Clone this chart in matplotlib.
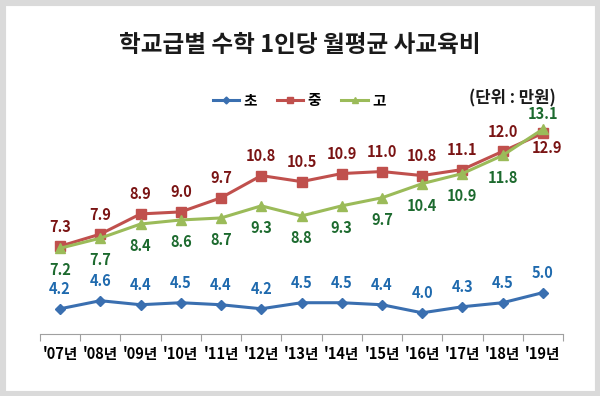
import matplotlib
matplotlib.use("Agg")
import matplotlib.pyplot as plt
from matplotlib.patches import Rectangle

plt.rcParams['font.family'] = ['Noto Sans CJK KR', 'DejaVu Sans']

years = ["'07년", "'08년", "'09년", "'10년", "'11년", "'12년", "'13년",
         "'14년", "'15년", "'16년", "'17년", "'18년", "'19년"]
elem = [4.2, 4.6, 4.4, 4.5, 4.4, 4.2, 4.5, 4.5, 4.4, 4.0, 4.3, 4.5, 5.0]
middle = [7.3, 7.9, 8.9, 9.0, 9.7, 10.8, 10.5, 10.9, 11.0, 10.8, 11.1, 12.0, 12.9]
high = [7.2, 7.7, 8.4, 8.6, 8.7, 9.3, 8.8, 9.3, 9.7, 10.4, 10.9, 11.8, 13.1]
series_names = ["초", "중", "고"]

c_blue, c_red, c_green = "#3A6FB0", "#C0504D", "#9BBB59"
t_blue, t_red, t_green = "#1F6AAE", "#7A1414", "#1C6A2E"

W, H = 600, 396
fig = plt.figure(figsize=(6.0, 3.96), dpi=100)
fig.patch.set_facecolor("white")
fig.patches.append(Rectangle((0, 0), 1, 1, transform=fig.transFigure, fill=False,
                             edgecolor="#DADADA", linewidth=8, zorder=10))

ax = fig.add_axes([40 / W, (H - 334) / H, (563 - 40) / W, (334 - 111) / H])
ax.patch.set_alpha(0)
x = list(range(len(years)))
ax.plot(x, elem, color=c_blue, marker="D", markersize=5, linewidth=2.2, label=series_names[0])
ax.plot(x, middle, color=c_red, marker="s", markersize=7, linewidth=2.2, label=series_names[1])
ax.plot(x, high, color=c_green, marker="^", markersize=7, linewidth=2.2, label=series_names[2])

ax.set_xlim(-0.5, len(years) - 0.5)
ax.set_ylim(2.95, 14.0)
for s in ["top", "right", "left"]:
    ax.spines[s].set_visible(False)
ax.spines["bottom"].set_color("#A0A0A0")
ax.set_yticks([])
ax.set_xticks([i - 0.5 for i in range(len(years) + 1)], minor=False)
ax.set_xticklabels([])
ax.tick_params(axis="x", which="major", length=5, color="#A0A0A0", direction="out")
ax.set_xticks(x, minor=True)
ax.set_xticklabels(years, minor=True, fontsize=10.5, fontweight="bold")
ax.tick_params(axis="x", which="minor", length=0, pad=9)

lab_kw = dict(textcoords="offset points", ha="center", va="center",
              fontsize=10.5, fontweight="bold")
last = len(years) - 1
for i in x:
    ax.annotate(f"{elem[i]:.1f}", (i, elem[i]), xytext=(0, 14), color=t_blue, **lab_kw)
    if i == last:
        ax.annotate(f"{middle[i]:.1f}", (i, middle[i]), xytext=(3, -11), color=t_red, **lab_kw)
        ax.annotate(f"{high[i]:.1f}", (i, high[i]), xytext=(0, 11), color=t_green, **lab_kw)
    else:
        ax.annotate(f"{middle[i]:.1f}", (i, middle[i]), xytext=(0, 14), color=t_red, **lab_kw)
        ax.annotate(f"{high[i]:.1f}", (i, high[i]), xytext=(0, -16), color=t_green, **lab_kw)

fig.text(0.5, (H - 45) / H, "학교급별 수학 1인당 월평균 사교육비", ha="center", va="center",
         fontsize=17, fontweight="bold", color="#1A1A1A")
fig.text(512 / W, (H - 98) / H, "(단위 : 만원)", ha="center", va="center",
         fontsize=12, fontweight="bold", color="#1A1A1A")
fig.legend(loc="center", bbox_to_anchor=(299 / W, (H - 100) / H), ncol=3, frameon=False,
           prop={"weight": "bold", "size": 10.5}, handlelength=1.8, columnspacing=1.4,
           handletextpad=0.3, markerscale=0.7)

fig.savefig("out.png", dpi=100)
